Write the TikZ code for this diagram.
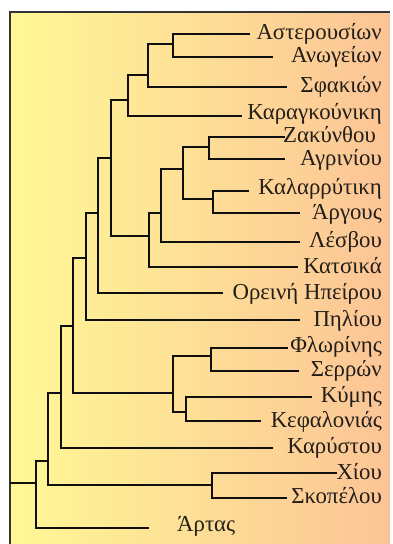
\documentclass[tikz,border=0pt]{standalone}
\usepackage{fontspec}
\setmainfont{Liberation Serif}
\definecolor{bgleft}{RGB}{255,248,150}
\definecolor{bgmid}{RGB}{254,232,152}
\definecolor{bgright}{RGB}{252,196,150}
\definecolor{ink}{RGB}{15,15,15}
\definecolor{txt}{RGB}{35,30,25}
\begin{document}
\begin{tikzpicture}[x=1pt,y=-1pt,
  branch/.style={line width=2.7pt, draw=ink, line join=miter},
  frame/.style={line width=2pt, draw=ink!85},
  leaflabel/.style={anchor=mid east, inner sep=0pt, text=txt, yshift=-4.5pt, font=\fontsize{22.8}{22.8}\selectfont},
  leaflabelw/.style={anchor=mid west, inner sep=0pt, text=txt, yshift=-4.5pt, font=\fontsize{22.8}{22.8}\selectfont}]
\useasboundingbox (0,0) rectangle (393,544);
\shade[left color=bgleft, middle color=bgmid, right color=bgright] (10,12) rectangle (390,544);
\draw[frame] (10,544) -- (10,12) -- (390,12);

% internal nodes
\coordinate (s0) at (10,483);
\coordinate (root) at (36,483);
\coordinate (n9) at (48,461);
\coordinate (n8) at (61,393);
\coordinate (n7) at (73,326);
\coordinate (n6) at (86,258);
\coordinate (n5) at (98,213);
\coordinate (n4) at (111,158);
\coordinate (n3) at (128,100);
\coordinate (n2) at (148,75);
\coordinate (n1) at (173,44);
\coordinate (nb) at (149,236);
\coordinate (nc) at (161,213);
\coordinate (nd) at (183,169);
\coordinate (nz) at (209,147);
\coordinate (nk) at (213,199);
\coordinate (nf) at (173,393);
\coordinate (nfs) at (211,356);
\coordinate (nkk) at (186,412);
\coordinate (nxs) at (212,485);

% leaf ends
\coordinate (e1) at (250,34);
\coordinate (e2) at (273,57);
\coordinate (e3) at (287,87);
\coordinate (e4) at (242,116);
\coordinate (e5) at (285,137);
\coordinate (e6) at (285,159);
\coordinate (e7) at (249,191);
\coordinate (e8) at (300,213);
\coordinate (e9) at (300,242);
\coordinate (e10) at (298,267);
\coordinate (e11) at (223,293);
\coordinate (e12) at (300,320);
\coordinate (e13) at (288,348);
\coordinate (e14) at (299,371);
\coordinate (e15) at (312,397);
\coordinate (e16) at (261,421);
\coordinate (e17) at (273,448);
\coordinate (e18) at (337,473);
\coordinate (e19) at (287,498);
\coordinate (e20) at (149,528);

% labels
\node[leaflabel] (l1) at (382,33) {Αστερουσίων};
\node[leaflabel] (l2) at (382,56) {Ανωγείων};
\node[leaflabel] (l3) at (382,86) {Σφακιών};
\node[leaflabel] (l4) at (382,113) {Καραγκούνικη};
\node[leaflabel] (l5) at (376,136) {Ζακύνθου};
\node[leaflabel] (l6) at (382,159) {Αγρινίου};
\node[leaflabel] (l7) at (382,188) {Καλαρρύτικη};
\node[leaflabel] (l8) at (382,213) {Άργους};
\node[leaflabel] (l9) at (382,241) {Λέσβου};
\node[leaflabel] (l10) at (382,267) {Κατσικά};
\node[leaflabel] (l11) at (382,293) {Ορεινή Ηπείρου};
\node[leaflabel] (l12) at (382,320) {Πηλίου};
\node[leaflabel] (l13) at (382,346) {Φλωρίνης};
\node[leaflabel] (l14) at (382,370) {Σερρών};
\node[leaflabel] (l15) at (382,396) {Κύμης};
\node[leaflabel] (l16) at (382,421) {Κεφαλονιάς};
\node[leaflabel] (l17) at (382,447) {Καρύστου};
\node[leaflabel] (l18) at (382,473) {Χίου};
\node[leaflabel] (l19) at (382,497) {Σκοπέλου};
\node[leaflabelw] (l20) at (177,525) {Άρτας};

% branches
\draw[branch] (s0) -- (root);
\draw[branch] (root) |- (n9);
\draw[branch] (root) |- (e20);
\draw[branch] (n9) |- (n8);
\draw[branch] (n9) |- (nxs);
\draw[branch] (nxs) |- (e18);
\draw[branch] (nxs) |- (e19);
\draw[branch] (n8) |- (n7);
\draw[branch] (n8) |- (e17);
\draw[branch] (n7) |- (n6);
\draw[branch] (n7) |- (nf);
\draw[branch] (nf) |- (nfs);
\draw[branch] (nf) |- (nkk);
\draw[branch] (nfs) |- (e13);
\draw[branch] (nfs) |- (e14);
\draw[branch] (nkk) |- (e15);
\draw[branch] (nkk) |- (e16);
\draw[branch] (n6) |- (n5);
\draw[branch] (n6) |- (e12);
\draw[branch] (n5) |- (n4);
\draw[branch] (n5) |- (e11);
\draw[branch] (n4) |- (n3);
\draw[branch] (n4) |- (nb);
\draw[branch] (n3) |- (n2);
\draw[branch] (n3) |- (e4);
\draw[branch] (n2) |- (n1);
\draw[branch] (n2) |- (e3);
\draw[branch] (n1) |- (e1);
\draw[branch] (n1) |- (e2);
\draw[branch] (nb) |- (nc);
\draw[branch] (nb) |- (e10);
\draw[branch] (nc) |- (nd);
\draw[branch] (nc) |- (e9);
\draw[branch] (nd) |- (nz);
\draw[branch] (nd) |- (nk);
\draw[branch] (nz) |- (e5);
\draw[branch] (nz) |- (e6);
\draw[branch] (nk) |- (e7);
\draw[branch] (nk) |- (e8);
\end{tikzpicture}
\end{document}
